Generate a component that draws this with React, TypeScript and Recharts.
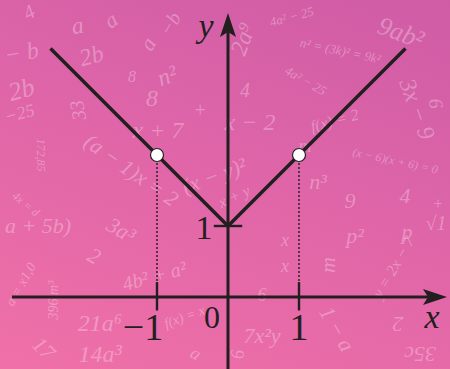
import React from "react";
import {
  ComposedChart,
  Line,
  Scatter,
  XAxis,
  YAxis,
  ReferenceLine,
  ReferenceDot,
} from "recharts";

// graph of y = |x| + 1, drawn between x = -2.5 and x = 2.5
const curveX = [-2.5, 0, 2.5];
const curveY = [3.5, 1, 3.5];

// open (excluded) points
const openX = [-1, 1];
const openY = [2, 2];

// ticks on the axes
const xTicks = [-1, 1];
const xTickLabels = ["\u22121", "1"];
const yTicks = [1];
const yTickLabels = ["1"];

const W = 450;
const H = 369;
const UNIT = 71;
const OX = 228;
const OY = 297;

const xDomain = [-OX / UNIT, (W - OX) / UNIT];
const yDomain = [-(H - OY) / UNIT, OY / UNIT];

const INK = "#231f20";
const SERIF = "'Liberation Serif', 'DejaVu Serif', serif";

const curveData = curveX.map((x, i) => ({ x, y: curveY[i] }));
const openData = openX.map((x, i) => ({ x, y: openY[i] }));

// faint formulas scattered over the background
const decor: [string, number, number, number, number][] = [
  ["4", 30, 14, -30, 20],
  ["a", 78, 28, -10, 24],
  ["a", 112, 22, -35, 22],
  ["a", 150, 45, -60, 22],
  ["\u2212b", 172, 25, -60, 20],
  ["\u2212 b", 22, 55, -10, 24],
  ["2b", 92, 58, -15, 24],
  ["2b", 22, 92, -15, 26],
  ["\u221225", 20, 115, -15, 18],
  ["8", 132, 78, 0, 16],
  ["n\u00b2", 168, 78, -20, 24],
  ["8", 152, 100, 0, 24],
  ["33", 80, 110, -100, 20],
  ["+", 200, 112, 0, 20],
  ["x + 7", 158, 132, 0, 24],
  ["4", 245, 92, 0, 20],
  ["x \u2212 2", 250, 124, 0, 24],
  ["2a\u2079", 245, 40, -70, 24],
  ["4a\u00b2 \u2212 25", 292, 18, -15, 13],
  ["n\u00b2 = (3k)\u00b2 = 9k\u00b2", 340, 52, 12, 13],
  ["4a\u00b2 \u2212 25", 305, 82, 30, 13],
  ["9ab\u00b2", 400, 35, 20, 26],
  ["3x \u2212 9", 415, 110, 70, 24],
  ["f(x) = 2", 335, 122, -15, 16],
  ["(x \u2212 6)(x + 6) = 0", 395, 162, 12, 12],
  ["(a \u2212 1)x = 2", 130, 172, 35, 22],
  ["(x \u2212 y)\u00b2", 215, 178, -20, 22],
  ["x + y", 235, 198, -25, 16],
  ["4x = d", 25, 205, 40, 12],
  ["172,85", 40, 155, 90, 12],
  ["a + 5b)", 38, 228, 0, 22],
  ["3a\u00b3", 120, 232, 30, 22],
  ["2", 93, 258, 30, 22],
  ["4b\u00b2 + a\u00b2", 155, 278, -15, 20],
  ["396 m\u00b3", 55, 300, -90, 14],
  ["a = x1,0", 22, 285, -60, 14],
  ["21a\u2076", 100, 325, 0, 24],
  ["14a\u00b3", 100, 356, 0, 24],
  ["17", 42, 350, 45, 22],
  ["f(x) = x", 185, 318, -20, 14],
  ["7x\u00b2y", 262, 338, 0, 22],
  ["6", 262, 297, 0, 18],
  ["9", 350, 203, 0, 22],
  ["4", 405, 198, 0, 22],
  ["p\u00b2", 355, 238, 0, 22],
  ["p", 407, 234, 0, 22],
  ["m", 330, 265, -90, 22],
  ["x", 285, 242, 0, 18],
  ["x", 285, 268, 0, 18],
  ["y = 2x \u2212 7", 395, 268, -60, 16],
  ["1 \u2212 a", 335, 330, 60, 22],
  ["2", 398, 322, 180, 22],
  ["35c", 420, 352, 180, 22],
  ["\u221a1", 436, 225, 0, 20],
  ["n\u00b3", 318, 184, 0, 22],
  ["m", 305, 148, 0, 18],
  ["+", 438, 205, 0, 16],
  ["6", 434, 104, 80, 20],
  ["9", 235, 354, 90, 18],
  ["a", 195, 355, 30, 18],
];

const arrowRight = (props: any) => {
  const { cx, cy } = props;
  return (
    <path
      d={`M${cx},${cy} L${cx - 24},${cy - 8} L${cx - 19},${cy} L${cx - 24},${cy + 8} Z`}
      fill={INK}
    />
  );
};

const arrowUp = (props: any) => {
  const { cx, cy } = props;
  return (
    <path
      d={`M${cx},${cy} L${cx - 8},${cy + 24} L${cx},${cy + 19} L${cx + 8},${cy + 24} Z`}
      fill={INK}
    />
  );
};

const openCircle = (props: any) => {
  const { cx, cy } = props;
  return <circle cx={cx} cy={cy} r={6.5} fill="#ffffff" stroke={INK} strokeWidth={1.2} />;
};

const textAt = (txt: string, dx: number, dy: number, size: number, italic = false) =>
  (props: any) => (
    <text
      x={props.cx + dx}
      y={props.cy + dy}
      textAnchor="middle"
      fontFamily={SERIF}
      fontStyle={italic ? "italic" : "normal"}
      fontSize={size}
      fill={INK}
    >
      {txt}
    </text>
  );

export default function App() {
  return (
    <div
      style={{
        position: "absolute",
        left: 0,
        top: 0,
        width: W,
        height: H,
        overflow: "hidden",
        background: "linear-gradient(200deg, #cf5ca6 0%, #e066a8 50%, #f071a8 100%)",
      }}
    >
      <svg width={W} height={H} style={{ position: "absolute", left: 0, top: 0 }}>
        {decor.map(([t, x, y, r, s], i) => (
          <text
            key={i}
            x={x}
            y={y}
            transform={`rotate(${r} ${x} ${y})`}
            textAnchor="middle"
            dominantBaseline="middle"
            fontFamily={SERIF}
            fontStyle="italic"
            fontSize={s}
            fill="#ffffff"
            fillOpacity={0.3}
          >
            {t}
          </text>
        ))}
      </svg>
      <div style={{ position: "absolute", left: 0, top: 0 }}>
        <ComposedChart width={W} height={H} margin={{ top: 0, right: 0, bottom: 0, left: 0 }}>
          <XAxis type="number" dataKey="x" domain={xDomain} allowDataOverflow hide />
          <YAxis type="number" dataKey="y" domain={yDomain} allowDataOverflow hide />

          {/* dotted guides from the open points down to the x-axis */}
          {openData.map((p, i) => (
            <ReferenceLine
              key={`g${i}`}
              segment={[{ x: p.x, y: 0 }, { x: p.x, y: p.y }]}
              stroke="#3a2430"
              strokeWidth={1.6}
              strokeDasharray="2 2"
              ifOverflow="visible"
            />
          ))}

          {/* axes */}
          <ReferenceLine
            segment={[{ x: -216 / UNIT, y: 0 }, { x: 205 / UNIT, y: 0 }]}
            stroke={INK}
            strokeWidth={3}
            ifOverflow="visible"
          />
          <ReferenceLine
            segment={[{ x: 0, y: yDomain[0] - 0.1 }, { x: 0, y: 270 / UNIT }]}
            stroke={INK}
            strokeWidth={3}
            ifOverflow="visible"
          />
          <ReferenceDot x={219 / UNIT} y={0} shape={arrowRight} ifOverflow="visible" />
          <ReferenceDot x={0} y={284 / UNIT} shape={arrowUp} ifOverflow="visible" />

          {/* ticks */}
          {xTicks.map((t) => (
            <ReferenceLine
              key={`xt${t}`}
              segment={[{ x: t, y: -0.19 }, { x: t, y: 0.21 }]}
              stroke={INK}
              strokeWidth={2.4}
              ifOverflow="visible"
            />
          ))}
          {yTicks.map((t) => (
            <ReferenceLine
              key={`yt${t}`}
              segment={[{ x: -0.2, y: t }, { x: 0.2, y: t }]}
              stroke={INK}
              strokeWidth={2.4}
              ifOverflow="visible"
            />
          ))}

          <Line
            data={curveData}
            dataKey="y"
            type="linear"
            stroke={INK}
            strokeWidth={3.5}
            dot={false}
            activeDot={false}
            isAnimationActive={false}
          />
          <Scatter data={openData} dataKey="y" shape={openCircle} isAnimationActive={false} />

          {/* labels */}
          {xTicks.map((t, i) => (
            <ReferenceDot
              key={`xl${t}`}
              x={t}
              y={0}
              shape={textAt(xTickLabels[i], t < 0 ? -14 : 0, 43, 38)}
              ifOverflow="visible"
            />
          ))}
          {yTicks.map((t, i) => (
            <ReferenceDot
              key={`yl${t}`}
              x={0}
              y={t}
              shape={textAt(yTickLabels[i], -24, 13, 34)}
              ifOverflow="visible"
            />
          ))}
          <ReferenceDot x={0} y={0} shape={textAt("0", -16, 31, 32)} ifOverflow="visible" />
          <ReferenceDot x={204 / UNIT} y={0} shape={textAt("x", 0, 31, 34, true)} ifOverflow="visible" />
          <ReferenceDot x={0} y={260 / UNIT} shape={textAt("y", -22, 0, 34, true)} ifOverflow="visible" />
        </ComposedChart>
      </div>
    </div>
  );
}
